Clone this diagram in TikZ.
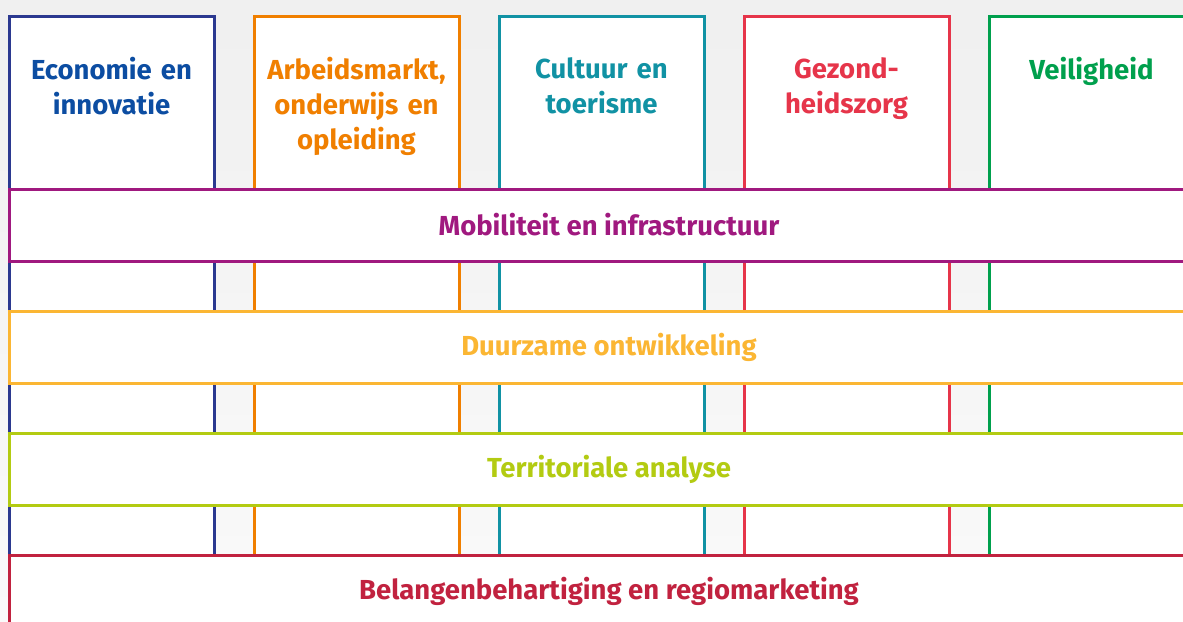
\documentclass[tikz,border=0pt]{standalone}
\usepackage{fontspec}
\setmainfont{Fira Sans}
\usepackage{tikz}
\definecolor{econ}{HTML}{2B3990}
\definecolor{econtxt}{HTML}{0C4DA2}
\definecolor{arbeid}{HTML}{F07F00}
\definecolor{cultuur}{HTML}{1192A4}
\definecolor{zorg}{HTML}{E6354A}
\definecolor{veilig}{HTML}{00A04D}
\definecolor{mobiel}{HTML}{A0197F}
\definecolor{duurzaam}{HTML}{FBB633}
\definecolor{terrein}{HTML}{B3CB12}
\definecolor{belang}{HTML}{C1223F}
\tikzstyle{column} = [rectangle, draw, fill=white, line width=3pt, outer sep=0pt,
    minimum width=205pt, minimum height=624pt]
\tikzstyle{band} = [rectangle, draw, fill=white, line width=3pt, outer sep=0pt,
    minimum width=1200pt, minimum height=72pt, font=\fontsize{27.5}{35}\selectfont\bfseries]
\tikzstyle{title} = [anchor=north, inner sep=0pt, text width=200pt, align=center,
    font=\fontsize{27.5}{35}\selectfont\bfseries]

\begin{document}
\begin{tikzpicture}[x=1pt, y=-1pt, node distance = auto]
    \clip (0,0) rectangle (1183,621);
    \shade [top color=black!6, bottom color=black!2] (0,0) rectangle (1183,621);
    % Place columns
    \node [column, draw=econ] (1) at (111.5,328) {};
    \node [column, draw=arbeid, right of=1, node distance=245pt] (2) {};
    \node [column, draw=cultuur, right of=2, node distance=245pt] (3) {};
    \node [column, draw=zorg, right of=3, node distance=245pt] (4) {};
    \node [column, draw=veilig, right of=4, node distance=245pt] (5) {};
    \node [title, text=econtxt] (t1) at ([yshift=-41pt]1.north) {Economie en\\innovatie};
    \node [title, text=arbeid] (t2) at ([yshift=-41pt]2.north) {Arbeidsmarkt,\\onderwijs en\\opleiding};
    \node [title, text=cultuur] (t3) at ([yshift=-41pt]3.north) {Cultuur en\\toerisme};
    \node [title, text=zorg] (t4) at ([yshift=-41pt]4.north) {Gezond-\\heidszorg};
    \node [title, text=veilig] (t5) at ([yshift=-41pt]5.north) {Veiligheid};
    % Place bands
    \node [band, draw=mobiel, text=mobiel] (6) at (609,225) {Mobiliteit en infrastructuur};
    \node [band, draw=duurzaam, text=duurzaam, below of=6, node distance=122pt] (7) {Duurzame ontwikkeling};
    \node [band, draw=terrein, text=terrein, below of=7, node distance=122pt] (8) {Territoriale analyse};
    \node [band, draw=belang, text=belang, below of=8, node distance=122pt] (9) {Belangenbehartiging en regiomarketing};
\end{tikzpicture}
\end{document}
